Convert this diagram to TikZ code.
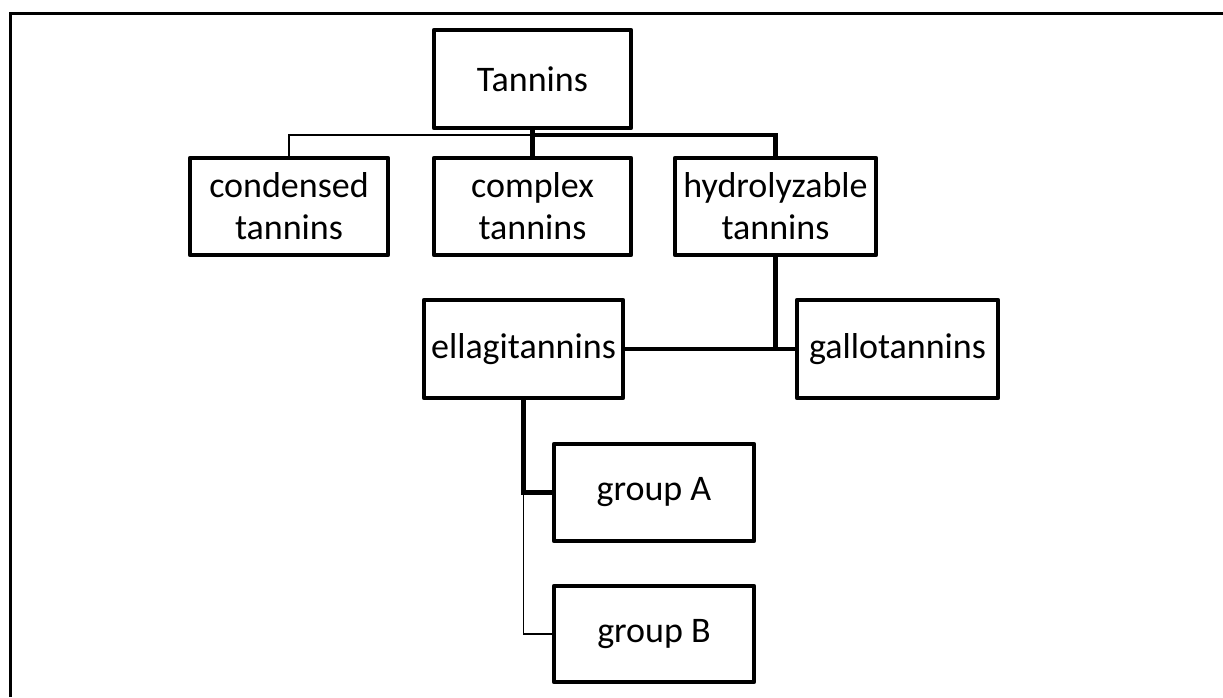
\documentclass[tikz,border=0pt]{standalone}
\usepackage{fontspec}
\setmainfont{Carlito}
\begin{document}
\begin{tikzpicture}[x=1pt,y=-1pt,
  box/.style={draw, rectangle, line width=4.5pt, line join=round, inner sep=0pt,
    align=center, font=\fontsize{36}{42}\selectfont},
  conn/.style={line width=4.5pt, line join=miter},
  thinconn/.style={line width=1.3pt}]
\useasboundingbox (0,0) rectangle (1223,697);
\draw[line width=3pt] (10.5,697) -- (10.5,13.3) -- (1223,13.3);
% nodes
\node[box, minimum width=197pt, minimum height=98pt] (tan) at (532.5,79) {Tannins};
\node[box, minimum width=198pt, minimum height=97pt] (con) at (289,206.5) {condensed\\tannins};
\node[box, minimum width=197pt, minimum height=97pt] (com) at (532.5,206.5) {complex\\tannins};
\node[box, minimum width=201pt, minimum height=97pt] (hyd) at (775.5,206.5) {hydrolyzable\\tannins};
\node[box, minimum width=199pt, minimum height=98pt] (ell) at (523.5,349) {ellagitannins};
\node[box, minimum width=201pt, minimum height=98pt] (gal) at (897.5,349) {gallotannins};
\node[box, minimum width=200pt, minimum height=97pt] (ga) at (654,492.5) {group A};
\node[box, minimum width=200pt, minimum height=96pt] (gb) at (654,634) {group B};
% junctions
\coordinate (j1) at (tan.south |- 0,135);
\coordinate (j2) at (hyd.south |- ell.east);
\coordinate (j3) at (ell.south |- ga.west);
% connectors
\draw[thinconn] (j1) -| (con.north);
\draw[conn] (tan.south) -- (com.north);
\draw[conn] (j1) -| (hyd.north);
\draw[conn] (hyd.south) -- (j2);
\draw[conn] (ell.east) -- (gal.west);
\draw[thinconn] (j3) |- (gb.west);
\draw[conn] (ell.south) |- (ga.west);
\end{tikzpicture}
\end{document}
